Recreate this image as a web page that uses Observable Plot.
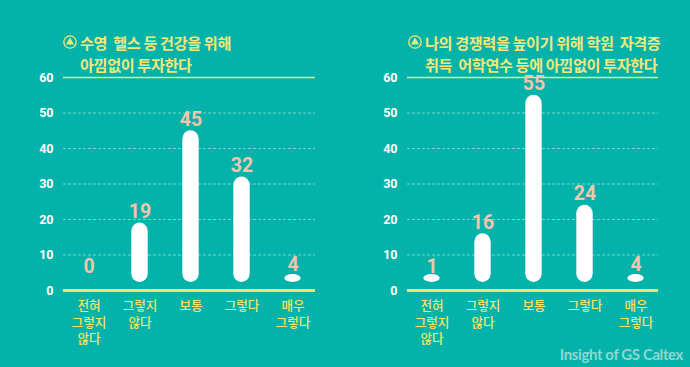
<!DOCTYPE html>
<html><head><meta charset="utf-8">
<script src="https://cdn.jsdelivr.net/npm/d3@7"></script>
<script src="https://cdn.jsdelivr.net/npm/@observablehq/plot@0.6"></script>
<style>
html,body{margin:0;padding:0;background:#03b2a9;}
#wrap{position:relative;width:690px;height:367px;overflow:hidden;background:#03b2a9;font-family:"Noto Sans CJK KR",sans-serif;}
.panel{position:absolute;top:0;width:345px;height:367px;}
.panel svg{position:absolute;left:0;top:0;}
.title{position:absolute;left:63px;top:31px;color:#f3e87c;font-weight:700;font-size:15.2px;line-height:22px;white-space:pre;letter-spacing:-0.4px;z-index:2;}
.title .l1{display:flex;align-items:center;}
.title .l1 svg{position:static;margin-right:3px;}
.title .l2{padding-left:17px;}
.credit{position:absolute;right:7px;bottom:4px;font-family:Lato,sans-serif;font-weight:700;font-size:15px;color:#8fd8d2;letter-spacing:-0.4px;}
</style></head>
<body>
<div id="wrap">
  <div class="panel" id="p1" style="left:0"></div>
  <div class="panel" id="p2" style="left:345px"></div>
  <div class="credit">Insight of GS Caltex</div>
</div>
<script>
const categories = ["전혀 그렇지 않다", "그렇지 않다", "보통", "그렇다", "매우 그렇다"];
const categoryLabels = ["전혀\n그렇지\n않다", "그렇지\n않다", "보통", "그렇다", "매우\n그렇다"];
const healthValues = [0, 19, 45, 32, 4];
const skillValues = [1, 16, 55, 24, 4];
const yTicks = [0, 10, 20, 30, 40, 50, 60];
const gridTicks = [10, 20, 30, 40, 50];
const title1 = ["수영  헬스 등 건강을 위해", "아낌없이 투자한다"];
const title2 = ["나의 경쟁력을 높이기 위해 학원  자격증", "취득  어학연수 등에 아낌없이 투자한다"];

const yellow = "#f3e66a";
const peach = "#f7c4ac";
const icon = '<svg width="14" height="14" viewBox="0 0 14 14"><circle cx="7" cy="7" r="6.2" fill="none" stroke="#f3e87c" stroke-width="1.3"/><path d="M7 2.6 L11 9.6 L3 9.6 Z" fill="#f3e87c"/></svg>';

function makePanel(el, values, titleLines, ml, mr) {
  const data = categories.map((c, i) => ({cat: c, value: values[i]}));
  const W = 345;
  const chart = Plot.plot({
    width: W, height: 367,
    marginTop: 77, marginBottom: 77, marginLeft: ml, marginRight: mr,
    style: {background: "transparent", overflow: "visible", fontFamily: "'Noto Sans CJK KR', sans-serif"},
    x: {domain: categories, range: [ml - 1.8, W - mr + 4.2], padding: 0, axis: null},
    y: {domain: [0, 60], axis: null},
    marks: [
      Plot.ruleY(gridTicks, {stroke: "white", strokeOpacity: 0.45, strokeDasharray: "3,2", strokeWidth: 1}),
      Plot.ruleY([60], {stroke: yellow, strokeWidth: 1.5}),
      Plot.ruleY([0], {stroke: yellow, strokeWidth: 3}),
      Plot.axisY({ticks: yTicks, tickSize: 0, tickPadding: 10, fill: "white", fontSize: 12.5, fontWeight: 700, fontFamily: "Roboto", label: null}),
      Plot.axisX({domain: categories, tickSize: 0, tickPadding: 8, tickFormat: c => categoryLabels[categories.indexOf(c)], fill: yellow, fontSize: 12.6, fontWeight: 500, lineHeight: 1.3, label: null}),
      Plot.barY(data.filter(d => d.value > 0), {x: "cat", y1: 0, y2: d => Math.max(d.value, 4.5), insetBottom: 8, insetLeft: 17.3, insetRight: 17.3, rx: 8.5, fill: "white"}),
      Plot.text(data, {x: "cat", y: d => Math.max(d.value, 3.5), text: d => String(d.value), dy: -5, lineAnchor: "bottom", fill: peach, fontSize: 19.5, fontWeight: 700, fontFamily: "Roboto"})
    ]
  });
  el.appendChild(chart);
  const t = document.createElement("div");
  t.className = "title";
  t.innerHTML = '<div class="l1">' + icon + '<span></span></div><div class="l2"></div>';
  t.querySelector(".l1 span").textContent = titleLines[0];
  t.querySelector(".l2").textContent = titleLines[1];
  el.appendChild(t);
}
makePanel(document.getElementById("p1"), healthValues, title1, 63, 30);
makePanel(document.getElementById("p2"), skillValues, title2, 62, 32);
</script>
</body></html>
